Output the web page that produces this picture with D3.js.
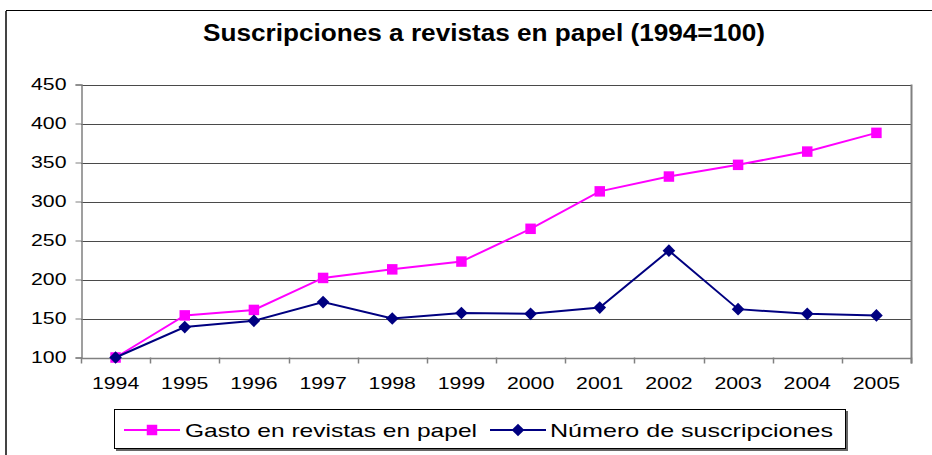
<!DOCTYPE html>
<html>
<head>
<meta charset="utf-8">
<script src="https://cdn.jsdelivr.net/npm/d3@7"></script>
<style>
  body { margin: 0; background: #fff; }
  svg text { font-family: "Liberation Sans", Arial, sans-serif; fill: #000; }
</style>
</head>
<body>
<svg id="chart" width="932" height="455"></svg>
<script>
// data
const years = ['1994', '1995', '1996', '1997', '1998', '1999', '2000', '2001', '2002', '2003', '2004', '2005'];
const gasto = [100, 154, 161, 202, 213, 223, 265, 313, 332, 347, 364, 388];
const numero = [100, 139, 147, 171, 150, 157, 156, 164, 237, 162, 156, 154];
const yTicks = [100, 150, 200, 250, 300, 350, 400, 450];
const titleText = 'Suscripciones a revistas en papel (1994=100)';
const legendLabels = ['Gasto en revistas en papel', 'Número de suscripciones'];

const pink = '#ff00ff', navy = '#000080';
const stretch = 1.25;  // the source image text is wide

const svg = d3.select('#chart');

// outer chart border (runs off the right and bottom)
svg.append('rect')
  .attr('x', 6.5).attr('y', 10.5)
  .attr('width', 1000).attr('height', 1000)
  .attr('fill', 'none').attr('stroke', '#000').attr('stroke-width', 1);
svg.append('line')
  .attr('x1', 6).attr('x2', 6).attr('y1', 11).attr('y2', 455)
  .attr('stroke', '#444').attr('stroke-width', 2);

svg.append('text')
  .attr('x', 484).attr('y', 41)
  .attr('text-anchor', 'middle')
  .style('font-size', '23px').style('font-weight', 'bold')
  .attr('textLength', 562).attr('lengthAdjust', 'spacingAndGlyphs')
  .text(titleText);

const plotL = 81, plotR = 911, plotT = 84.5, plotB = 357.5;

const x = d3.scaleBand().domain(years).range([plotL, plotR]);
const y = d3.scaleLinear().domain([100, 450]).range([plotB, plotT]);

// gridlines
svg.append('g')
  .selectAll('line')
  .data(yTicks.slice(1))
  .join('line')
  .attr('x1', plotL).attr('x2', plotR)
  .attr('y1', d => Math.round(y(d)) + 0.5).attr('y2', d => Math.round(y(d)) + 0.5)
  .attr('stroke', '#4a4a4a').attr('stroke-width', 1);

// plot area right edge
svg.append('line')
  .attr('x1', plotR + 0.5).attr('x2', plotR + 0.5)
  .attr('y1', y(450)).attr('y2', plotB + 6)
  .attr('stroke', '#808080').attr('stroke-width', 2);

// y axis
const yAxis = svg.append('g')
  .attr('transform', `translate(${plotL + 0.5},0)`)
  .call(d3.axisLeft(y).tickValues(yTicks).tickSize(6).tickPadding(9));
yAxis.select('.domain').attr('stroke', '#808080').attr('stroke-width', 1.5);
yAxis.selectAll('.tick line').attr('stroke', '#808080');
yAxis.selectAll('text')
  .style('font-size', '17px')
  .attr('fill', '#000')
  .each(function () {
    const w = this.getComputedTextLength();
    d3.select(this).attr('textLength', w * stretch).attr('lengthAdjust', 'spacingAndGlyphs');
  });

// x axis, ticks sit between categories
const xAxis = svg.append('g')
  .attr('transform', `translate(0,${plotB + 0.5})`)
  .call(d3.axisBottom(x).tickSize(0).tickPadding(19));
xAxis.select('.domain').attr('stroke', '#808080').attr('stroke-width', 1.5);
xAxis.selectAll('text')
  .style('font-size', '17px')
  .attr('fill', '#000')
  .each(function () {
    const w = this.getComputedTextLength();
    d3.select(this).attr('textLength', w * stretch).attr('lengthAdjust', 'spacingAndGlyphs');
  });
svg.append('g')
  .selectAll('line')
  .data(years.concat(['end']))
  .join('line')
  .attr('x1', (d, i) => Math.round(plotL + i * x.bandwidth()) + 0.5)
  .attr('x2', (d, i) => Math.round(plotL + i * x.bandwidth()) + 0.5)
  .attr('y1', plotB).attr('y2', plotB + 6)
  .attr('stroke', '#808080').attr('stroke-width', 1.5);

const cx = d => x(d) + x.bandwidth() / 2;
const line = d3.line().x(d => cx(d[0])).y(d => y(d[1]));

// square marker, or the same square turned 45 degrees for the diamond
const series = [
  { name: legendLabels[0], values: gasto, color: pink, size: 110, rot: 0 },
  { name: legendLabels[1], values: numero, color: navy, size: 80, rot: 45 }
];
const marker = d3.symbol().type(d3.symbolSquare);

series.forEach(s => {
  const pts = years.map((yr, i) => [yr, s.values[i]]);
  svg.append('path')
    .attr('d', line(pts))
    .attr('fill', 'none')
    .attr('stroke', s.color)
    .attr('stroke-width', 2);
  svg.append('g')
    .selectAll('path')
    .data(pts)
    .join('path')
    .attr('transform', d => `translate(${cx(d[0])},${y(d[1])}) rotate(${s.rot})`)
    .attr('d', marker.size(s.size)())
    .attr('fill', s.color);
});

// legend
const lg = svg.append('g');
lg.append('rect')
  .attr('x', 116).attr('y', 411).attr('width', 732).attr('height', 40)
  .attr('fill', '#666');
lg.append('rect')
  .attr('x', 114.5).attr('y', 409.5).attr('width', 731).attr('height', 39)
  .attr('fill', '#fff').attr('stroke', '#000').attr('stroke-width', 1);

const legendItems = [
  { s: series[0], x0: 124, x1: 180, tx: 185, tw: 292 },
  { s: series[1], x0: 490, x1: 546, tx: 550, tw: 283 }
];
legendItems.forEach(it => {
  lg.append('line')
    .attr('x1', it.x0).attr('x2', it.x1).attr('y1', 430).attr('y2', 430)
    .attr('stroke', it.s.color).attr('stroke-width', 2);
  lg.append('path')
    .attr('transform', `translate(${(it.x0 + it.x1) / 2},430) rotate(${it.s.rot})`)
    .attr('d', marker.size(it.s.size)())
    .attr('fill', it.s.color);
  lg.append('text')
    .attr('x', it.tx).attr('y', 437)
    .style('font-size', '19px')
    .attr('textLength', it.tw).attr('lengthAdjust', 'spacingAndGlyphs')
    .text(it.s.name);
});
</script>
</body>
</html>
